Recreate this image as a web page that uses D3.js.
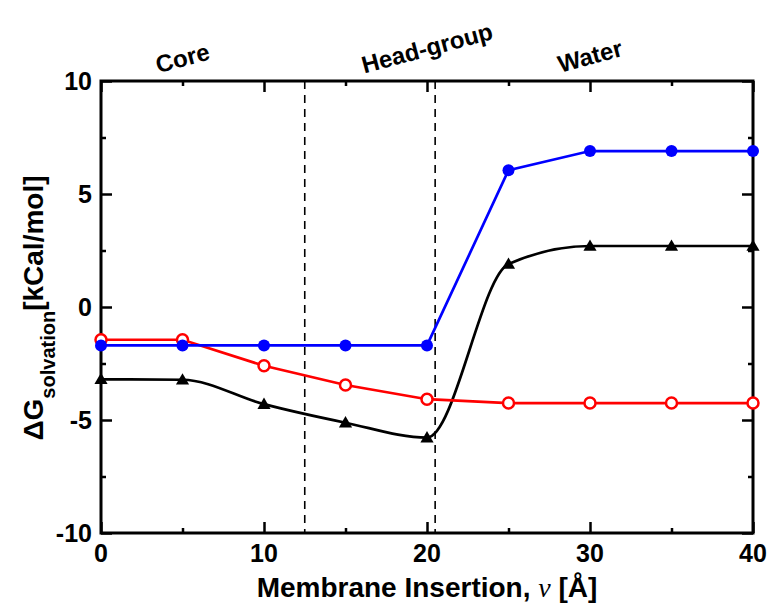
<!DOCTYPE html>
<html>
<head>
<meta charset="utf-8">
<script src="https://cdn.jsdelivr.net/npm/d3@7"></script>
<style>
    body { margin: 0; background: #fff; }
    text { font-family: "Liberation Sans", Arial, sans-serif; font-weight: bold; }
</style>
</head>
<body>
<div id="chart"></div>
<script>
// membrane insertion depth (Å)
var insertion = [0, 5, 10, 15, 20, 25, 30, 35, 40];

// solvation free energy series (kCal/mol)
var blueValues = [-1.7, -1.7, -1.7, -1.7, -1.7, 6.05, 6.9, 6.9, 6.9];
var redValues = [-1.45, -1.45, -2.6, -3.45, -4.08, -4.25, -4.25, -4.25, -4.25];
var blackValues = [-3.2, -3.22, -4.3, -5.12, -5.78, 1.9, 2.7, 2.7, 2.7];

// region boundaries and labels
var boundaries = [12.5, 20.5];
var regionNames = ["Core", "Head-group", "Water"];
var regionCenters = [5, 20, 30];

var xMajorTicks = [0, 10, 20, 30, 40];
var xMinorTicks = [5, 15, 25, 35];
var yMajorTicks = [-10, -5, 0, 5, 10];
var yMinorTicks = [-7.5, -2.5, 2.5, 7.5];

var margin = { top: 81, right: 17, bottom: 70, left: 101 };
var width = 770, height = 603;
var innerW = width - margin.left - margin.right;
var innerH = height - margin.top - margin.bottom;

var svg = d3.select("#chart").append("svg")
    .attr("width", width)
    .attr("height", height);

var g = svg.append("g")
    .attr("transform", "translate(" + margin.left + "," + margin.top + ")");

var x = d3.scaleLinear().domain([0, 40]).range([0, innerW]);
var y = d3.scaleLinear().domain([-10, 10]).range([innerH, 0]);

// dashed region boundaries
g.selectAll(".boundary")
    .data(boundaries)
    .enter().append("line")
    .attr("class", "boundary")
    .attr("x1", x).attr("x2", x)
    .attr("y1", 0).attr("y2", innerH)
    .attr("stroke", "black")
    .attr("stroke-width", 1.6)
    .attr("stroke-dasharray", "8,6");

// ticks on all four sides, pointing inward
function drawAxis(axis, ticks, size) {
    var a = g.append("g").call(axis.tickValues(ticks).tickSize(size).tickFormat(""));
    a.select(".domain").remove();
    a.selectAll("line").attr("stroke-width", 2.5);
    return a;
}
drawAxis(d3.axisBottom(x), xMajorTicks, -11).attr("transform", "translate(0," + innerH + ")");
drawAxis(d3.axisBottom(x), xMinorTicks, -5).attr("transform", "translate(0," + innerH + ")");
drawAxis(d3.axisTop(x), xMajorTicks, -11);
drawAxis(d3.axisTop(x), xMinorTicks, -5);
drawAxis(d3.axisLeft(y), yMajorTicks, -11);
drawAxis(d3.axisLeft(y), yMinorTicks, -5);
drawAxis(d3.axisRight(y), yMajorTicks, -11).attr("transform", "translate(" + innerW + ",0)");
drawAxis(d3.axisRight(y), yMinorTicks, -5).attr("transform", "translate(" + innerW + ",0)");

g.append("rect")
    .attr("width", innerW).attr("height", innerH)
    .attr("fill", "none")
    .attr("stroke", "black")
    .attr("stroke-width", 3);

// tick labels
g.selectAll(".xlabel")
    .data(xMajorTicks)
    .enter().append("text")
    .attr("x", x)
    .attr("y", innerH + 29)
    .attr("text-anchor", "middle")
    .style("font-size", "25px")
    .text(function (d) { return d; });

g.selectAll(".ylabel")
    .data(yMajorTicks)
    .enter().append("text")
    .attr("x", -9)
    .attr("y", function (d) { return y(d) + 9; })
    .attr("text-anchor", "end")
    .style("font-size", "25px")
    .text(function (d) { return d; });

// series
function drawSeries(values, color, curve) {
    var pts = insertion.map(function (d, i) { return [x(d), y(values[i])]; });
    g.append("path")
        .attr("d", d3.line().curve(curve)(pts))
        .attr("fill", "none")
        .attr("stroke", color)
        .attr("stroke-width", 2.7);
    return pts;
}

var blackPts = drawSeries(blackValues, "black", d3.curveMonotoneX);
g.selectAll(".tri")
    .data(blackPts)
    .enter().append("path")
    .attr("transform", function (d) { return "translate(" + d[0] + "," + (d[1] + 1) + ")"; })
    .attr("d", d3.symbol().type(d3.symbolTriangle).size(75))
    .attr("fill", "black");

var redPts = drawSeries(redValues, "red", d3.curveLinear);
g.selectAll(".open")
    .data(redPts)
    .enter().append("circle")
    .attr("cx", function (d) { return d[0]; })
    .attr("cy", function (d) { return d[1]; })
    .attr("r", 5.5)
    .attr("fill", "white")
    .attr("stroke", "red")
    .attr("stroke-width", 2.5);

var bluePts = drawSeries(blueValues, "blue", d3.curveLinear);
g.selectAll(".dot")
    .data(bluePts)
    .enter().append("circle")
    .attr("cx", function (d) { return d[0]; })
    .attr("cy", function (d) { return d[1]; })
    .attr("r", 6)
    .attr("fill", "blue");

// region labels above the frame
var regionLift = [23, 33, 25];
g.selectAll(".region")
    .data(regionNames)
    .enter().append("text")
    .attr("transform", function (d, i) {
        return "translate(" + x(regionCenters[i]) + "," + (-regionLift[i]) + ") rotate(-15)";
    })
    .attr("text-anchor", "middle")
    .attr("dy", "0.35em")
    .style("font-size", "24px")
    .text(function (d) { return d; });

// axis titles
var xTitle = g.append("text")
    .attr("x", innerW / 2)
    .attr("y", innerH + 64)
    .attr("text-anchor", "middle")
    .style("font-size", "28px");
xTitle.append("tspan").text("Membrane Insertion, ");
xTitle.append("tspan")
    .style("font-family", "'Liberation Serif', 'Times New Roman', serif")
    .style("font-style", "italic")
    .style("font-weight", "normal")
    .text("\u03BD");
xTitle.append("tspan").text(" [\u00C5]");

var yTitle = svg.append("text")
    .attr("transform", "translate(43," + 308 + ") rotate(-90)")
    .attr("text-anchor", "middle")
    .style("font-size", "28px");
yTitle.append("tspan").text("\u0394G");
yTitle.append("tspan").attr("dy", 12).style("font-size", "20px").text("solvation");
yTitle.append("tspan").attr("dy", -12).text("[kCal/mol]");
</script>
</body>
</html>
